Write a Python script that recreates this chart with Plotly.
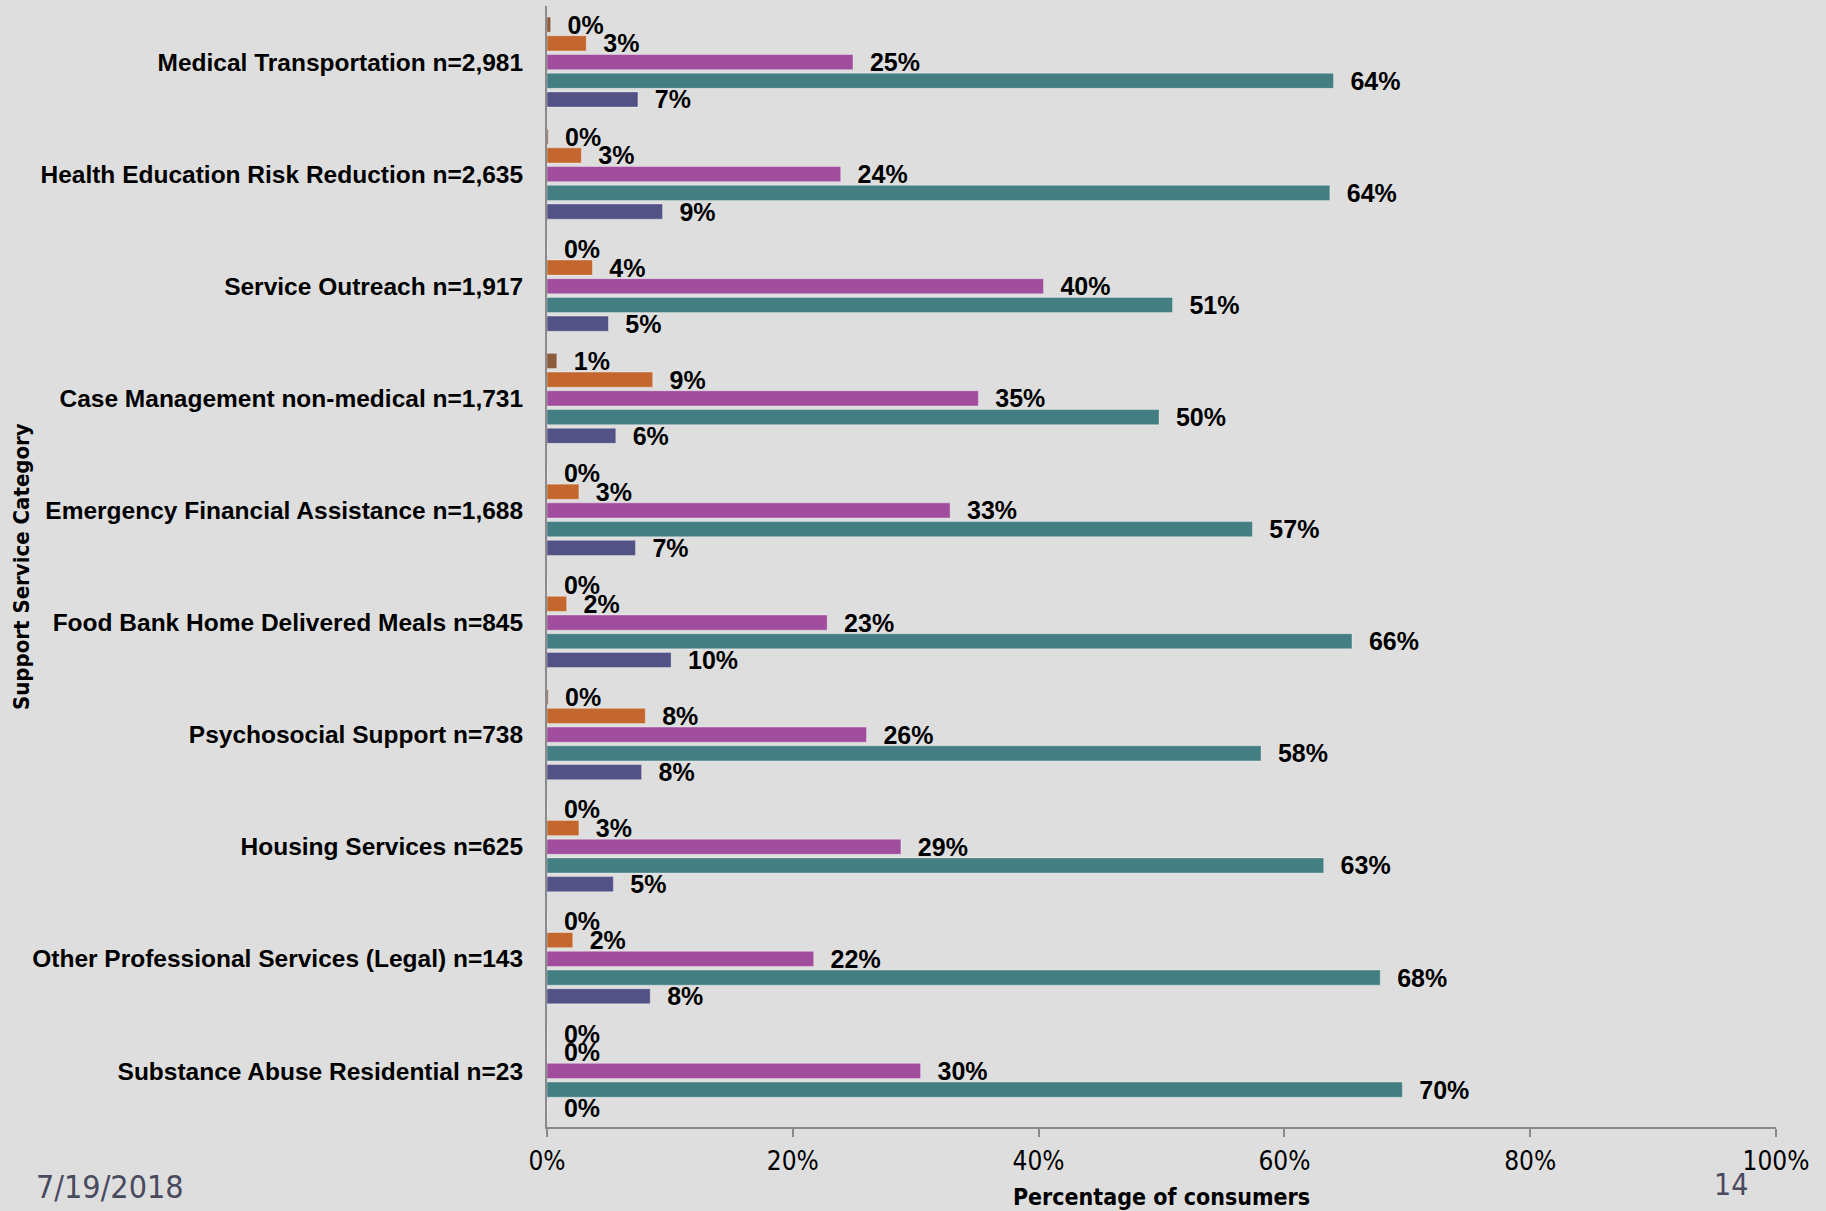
import plotly.graph_objects as go

categories = [
    "Medical Transportation n=2,981",
    "Health Education Risk Reduction n=2,635",
    "Service Outreach n=1,917",
    "Case Management non-medical n=1,731",
    "Emergency Financial Assistance n=1,688",
    "Food Bank Home Delivered Meals n=845",
    "Psychosocial Support n=738",
    "Housing Services n=625",
    "Other Professional Services (Legal) n=143",
    "Substance Abuse Residential n=23",
]

series_names = ["Series 1", "Series 2", "Series 3", "Series 4", "Series 5"]
series_1 = [0.3, 0.1, 0.0, 0.8, 0.0, 0.0, 0.1, 0.0, 0.0, 0.0]
series_2 = [3.2, 2.8, 3.7, 8.6, 2.6, 1.6, 8.0, 2.6, 2.1, 0.0]
series_3 = [24.9, 23.9, 40.4, 35.1, 32.8, 22.8, 26.0, 28.8, 21.7, 30.4]
series_4 = [64.0, 63.7, 50.9, 49.8, 57.4, 65.5, 58.1, 63.2, 67.8, 69.6]
series_5 = [7.4, 9.4, 5.0, 5.6, 7.2, 10.1, 7.7, 5.4, 8.4, 0.0]

x_ticks = [0, 20, 40, 60, 80, 100]
x_tick_labels = ["0%", "20%", "40%", "60%", "80%", "100%"]

colors = ["#8C5A3C", "#C4672F", "#A04D9E", "#437E83", "#535287"]

BG = "#DEDEDE"
NARROW = "DejaVu Sans Condensed, Liberation Sans Narrow, sans-serif"
BOLD = "Liberation Sans, Arial, sans-serif"

PLOT_L, PLOT_W, PLOT_B, PLOT_H = 547, 1229, 1127, 1121

fig = go.Figure()
for name, vals, col in zip(series_names,
                           [series_1, series_2, series_3, series_4, series_5],
                           colors):
    fig.add_trace(go.Bar(
        y=categories, x=vals, name=name, orientation="h",
        marker=dict(color=col, line=dict(color="rgba(255,255,255,0.35)", width=1)),
        texttemplate="\u00a0\u00a0%{x:.0f}%",
        textposition="outside",
        constraintext="none",
        cliponaxis=False,
        textfont=dict(family=BOLD, size=25, color="#000000", weight="bold"),
    ))

fig.update_layout(
    width=1826, height=1211,
    barmode="group", bargap=0.165, bargroupgap=0.19,
    paper_bgcolor=BG, plot_bgcolor=BG,
    showlegend=False,
    margin=dict(l=PLOT_L, r=50, t=6, b=84),
    uniformtext=dict(mode=False),
)

fig.update_xaxes(
    range=[0, 100], tickvals=x_ticks, ticktext=x_tick_labels,
    showgrid=False, zeroline=False,
    showline=True, linecolor="#8A8A8A", linewidth=2,
    ticks="outside", ticklen=8, tickcolor="#8A8A8A", tickwidth=2,
    ticklabelstandoff=2,
    tickfont=dict(family=NARROW, size=26, color="#000000"),
    title=dict(text="Percentage of consumers", standoff=14,
               font=dict(family=NARROW, size=23, color="#000000", weight="bold")),
)

fig.update_yaxes(
    autorange="reversed",
    showgrid=False, zeroline=False,
    showline=True, linecolor="#8A8A8A", linewidth=2,
    ticks="", ticklabelstandoff=17,
    tickfont=dict(family=BOLD, size=24.5, color="#000000", weight="bold"),
)

fig.add_annotation(
    text="Support Service Category", textangle=-90,
    xref="paper", yref="paper",
    x=(21 - PLOT_L)/PLOT_W, y=(PLOT_B - 567)/PLOT_H,
    xanchor="center", yanchor="middle", showarrow=False,
    font=dict(family=NARROW, size=22, color="#000000", weight="bold"),
)
fig.add_annotation(
    text="7/19/2018", xref="paper", yref="paper",
    x=(34 - PLOT_L)/PLOT_W, y=-(1187 - PLOT_B)/PLOT_H,
    xanchor="left", yanchor="middle", showarrow=False,
    font=dict(family=NARROW, size=32, color="#4A4A5E"),
)
fig.add_annotation(
    text="14", xref="paper", yref="paper",
    x=(1750 - PLOT_L)/PLOT_W, y=-(1184 - PLOT_B)/PLOT_H,
    xanchor="right", yanchor="middle", showarrow=False,
    font=dict(family=NARROW, size=30, color="#4A4A5E"),
)

fig.write_html("out.html", config={"displayModeBar": False},
               post_script="document.body.style.margin='0';")
